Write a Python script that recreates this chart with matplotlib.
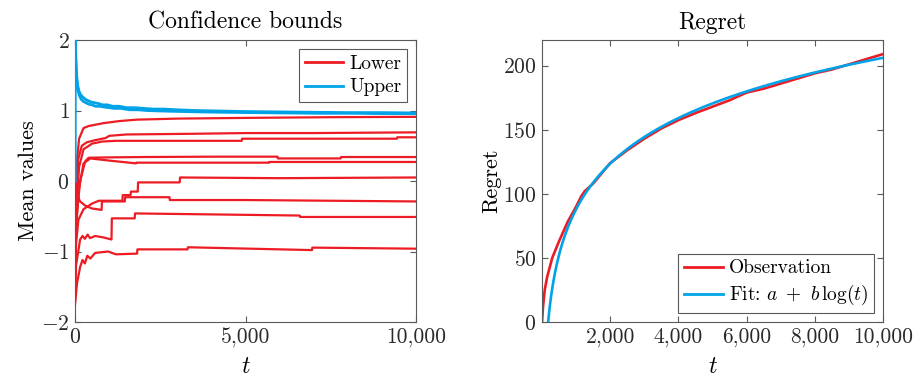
import matplotlib
matplotlib.use("Agg")
import matplotlib.pyplot as plt
import numpy as np
from matplotlib.ticker import FuncFormatter, FixedLocator

plt.rcParams["font.family"] = "serif"
plt.rcParams["font.serif"] = ["cmr10"]
plt.rcParams["mathtext.fontset"] = "cm"
plt.rcParams["axes.formatter.use_mathtext"] = True

RED = "#ED1C24"
BLUE = "#00A2E8"
AXIS_GREY = "#5a5a5a"
TEXT_GREY = "#2a2a2a"

# ---- Confidence bounds: lower bounds of each arm (breakpoints t, value) ----
lower_t = [
    [1, 20, 60, 120, 250, 400, 830, 1300, 1800, 3000, 5000, 7500, 10000],
    [1, 30, 90, 200, 350, 600, 900, 1000, 1500, 2500, 3500, 5000, 7000, 10000],
    [1, 40, 120, 250, 500, 800, 1200, 2000, 3000, 4890, 4900, 9440, 9450, 10000],
    [1, 50, 150, 300, 400, 1000, 2000, 4000, 5940, 5950, 7790, 7800, 10000],
    [1, 40, 120, 250, 450, 1000, 1790, 1800, 3000, 5690, 5700, 10000],
    [1, 30, 100, 250, 500, 700, 1390, 1400, 1630, 1640, 1840, 1850, 3070, 3080, 6000, 10000],
    [1, 20, 60, 150, 300, 500, 780, 790, 1460, 1470, 2770, 2780, 5000, 10000],
    [1, 30, 150, 220, 290, 370, 440, 590, 830, 1070, 1080, 1750, 1760, 5000, 6590, 6600, 10000],
    [1, 60, 150, 220, 290, 360, 450, 590, 970, 1200, 1820, 1830, 3300, 3310, 6950, 6960, 10000],
]
lower_v = [
    [-0.9, -0.3, 0.3, 0.6, 0.75, 0.78, 0.82, 0.85, 0.87, 0.885, 0.895, 0.905, 0.91],
    [-1.2, -0.5, 0.3, 0.5, 0.55, 0.58, 0.61, 0.64, 0.66, 0.665, 0.67, 0.68, 0.68, 0.69],
    [-1.5, -0.4, 0.2, 0.45, 0.53, 0.56, 0.57, 0.57, 0.57, 0.57, 0.60, 0.60, 0.62, 0.62],
    [-1.0, -0.5, 0.0, 0.28, 0.33, 0.335, 0.34, 0.345, 0.345, 0.32, 0.32, 0.34, 0.34],
    [-1.3, -0.6, -0.1, 0.25, 0.32, 0.29, 0.25, 0.26, 0.26, 0.26, 0.27, 0.27],
    [-1.6, -0.9, -0.55, -0.4, -0.32, -0.28, -0.28, -0.20, -0.20, -0.15, -0.15, -0.02, -0.02, 0.05, 0.04, 0.05],
    [-0.8, -0.1, -0.2, -0.29, -0.35, -0.39, -0.41, -0.29, -0.29, -0.23, -0.23, -0.27, -0.27, -0.29],
    [-1.7, -1.2, -0.83, -0.78, -0.82, -0.76, -0.81, -0.78, -0.80, -0.83, -0.53, -0.53, -0.46, -0.48, -0.49, -0.51, -0.51],
    [-1.75, -1.45, -1.22, -1.12, -1.17, -1.06, -1.10, -1.02, -1.0, -1.04, -1.03, -0.97, -0.97, -0.94, -0.98, -0.945, -0.96],
]

# ---- Confidence bounds: upper bounds ----
upper_t = [
    [0, 1, 10, 25, 50, 80, 120, 170, 230, 300, 380, 470, 570, 680, 800, 950, 1100,
     1300, 1500, 1750, 2000, 2300, 2600, 3000, 3500, 4000, 5000, 6000, 7000, 8000, 9000, 10000],
    [0, 1, 12, 30, 55, 90, 130, 180, 240, 320, 400, 500, 600, 720, 850, 1000, 1150,
     1350, 1600, 1850, 2100, 2400, 2750, 3200, 3700, 4300, 5200, 6200, 7200, 8200, 9200, 10000],
]
upper_v = [
    [0.0, 2.0, 2.0, 1.72, 1.48, 1.35, 1.27, 1.22, 1.19, 1.16, 1.14, 1.12, 1.11, 1.10, 1.08, 1.08,
     1.06, 1.06, 1.04, 1.04, 1.03, 1.02, 1.02, 1.01, 1.0, 0.995, 0.985, 0.98, 0.975, 0.97, 0.97, 0.965],
    [0.0, 2.0, 1.9, 1.6, 1.4, 1.28, 1.21, 1.16, 1.13, 1.11, 1.09, 1.08, 1.06, 1.06, 1.05, 1.04,
     1.03, 1.03, 1.01, 1.01, 1.0, 0.995, 0.99, 0.985, 0.98, 0.975, 0.97, 0.965, 0.96, 0.96, 0.955, 0.955],
]

# ---- Regret: observation and logarithmic fit ----
obs_t = [1, 30, 80, 150, 300, 500, 750, 1000, 1150, 1250, 1500, 2000, 2500, 3000, 3500,
         4000, 4500, 5000, 5500, 6000, 6500, 7000, 7500, 8000, 8500, 9000, 9500, 10000]
obs_v = [0, 12, 25, 35, 50, 63, 78, 90, 98, 102, 108, 124, 134, 143, 151,
         157.5, 163, 168, 173, 179, 182, 186, 190, 194, 197, 201, 205, 209]
fit_a = -266.4
fit_b = 51.3

left_xticks = [0, 5000, 10000]
left_yticks = [-2, -1, 0, 1, 2]
right_xticks = [2000, 4000, 6000, 8000, 10000]
right_yticks = [0, 50, 100, 150, 200]

W, H = 915, 379
fig = plt.figure(figsize=(W / 100, H / 100), dpi=100)
ax1 = fig.add_axes([75 / W, 1 - 322 / H, (416 - 75) / W, (322 - 40) / H])
ax2 = fig.add_axes([542 / W, 1 - 322 / H, (883 - 542) / W, (322 - 40) / H])

comma_fmt = FuncFormatter(lambda x, p: f"{x:,.0f}")
math_fmt = FuncFormatter(lambda x, p: f"${x:g}$")

# Left panel
for i, (t, v) in enumerate(zip(lower_t, lower_v)):
    ax1.plot(t, v, color=RED, lw=1.6, label="Lower" if i == 0 else None, zorder=2)
for i, (t, v) in enumerate(zip(upper_t, upper_v)):
    ax1.plot(t, v, color=BLUE, lw=2.0, label="Upper" if i == 0 else None, zorder=3)
ax1.set_xlim(0, 10000)
ax1.set_ylim(-2, 2)
ax1.xaxis.set_major_locator(FixedLocator(left_xticks))
ax1.yaxis.set_major_locator(FixedLocator(left_yticks))
ax1.xaxis.set_major_formatter(comma_fmt)
ax1.yaxis.set_major_formatter(math_fmt)
ax1.set_title("Confidence bounds", fontsize=17, pad=8)
ax1.set_xlabel("$t$", fontsize=17, labelpad=6)
ax1.set_ylabel("Mean values", fontsize=16, labelpad=2)

# Right panel
fit_t = np.linspace(1, 10000, 2000)
ax2.plot(obs_t, obs_v, color=RED, lw=1.9, label="Observation", zorder=2)
ax2.plot(fit_t, fit_a + fit_b * np.log(fit_t), color=BLUE, lw=1.9,
         label=r"Fit: $a\ +\ b\,\log(t)$", zorder=3)
ax2.set_xlim(0, 10000)
ax2.set_ylim(0, 220)
ax2.xaxis.set_major_locator(FixedLocator(right_xticks))
ax2.yaxis.set_major_locator(FixedLocator(right_yticks))
ax2.xaxis.set_major_formatter(comma_fmt)
ax2.yaxis.set_major_formatter(math_fmt)
ax2.set_title("Regret", fontsize=17, pad=8)
ax2.set_xlabel("$t$", fontsize=17, labelpad=6)
ax2.set_ylabel("Regret", fontsize=16, labelpad=1)

for ax in (ax1, ax2):
    for s in ax.spines.values():
        s.set_color(AXIS_GREY)
        s.set_linewidth(0.8)
    ax.tick_params(direction="in", top=True, right=True, length=4, width=0.8,
                   color=AXIS_GREY, labelcolor=TEXT_GREY, labelsize=15.5, pad=4)

leg_kw = dict(fontsize=14, frameon=True, fancybox=False, framealpha=1,
              edgecolor=AXIS_GREY, handlelength=2.0, handletextpad=0.3,
              borderpad=0.3, labelspacing=0.3, borderaxespad=0.45)
l1 = ax1.legend(loc="upper right", **leg_kw)
l2 = ax2.legend(loc="lower right", **leg_kw)
for l in (l1, l2):
    l.get_frame().set_linewidth(0.8)
    for line in l.get_lines():
        line.set_linewidth(2.0)

fig.savefig("out.png", dpi=100)
